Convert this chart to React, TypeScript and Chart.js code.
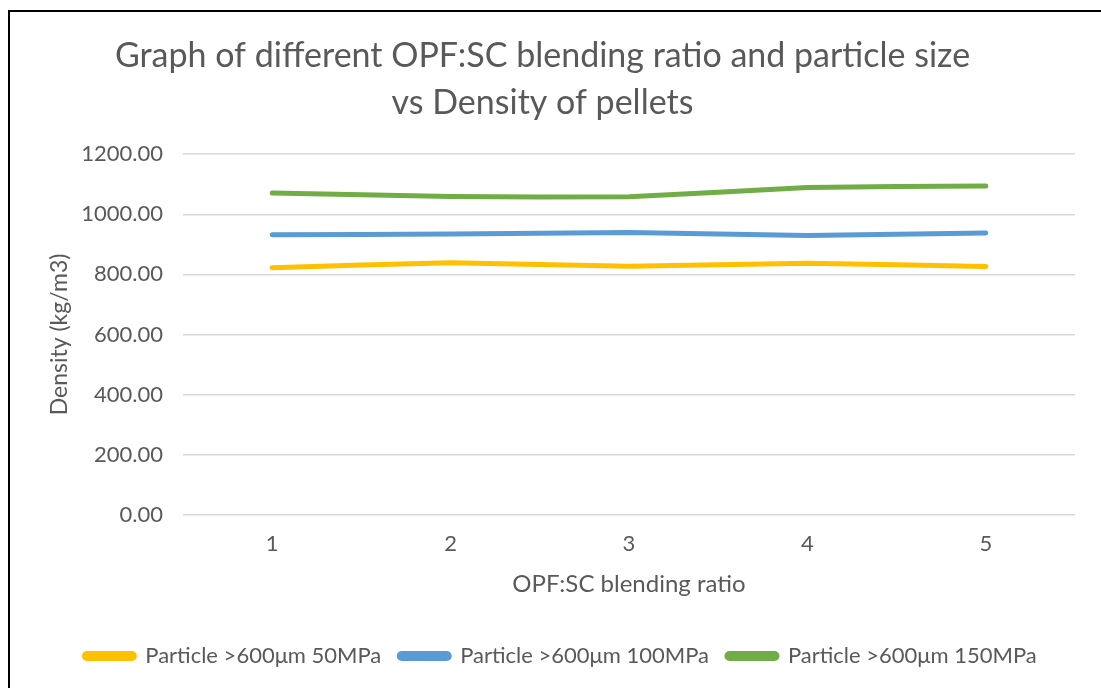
import React, { useEffect, useRef } from "react";
import { Chart, registerables } from "chart.js";

Chart.register(...registerables);

const categories = ["1", "2", "3", "4", "5"];
const seriesNames = [
  "Particle >600μm 50MPa",
  "Particle >600μm 100MPa",
  "Particle >600μm 150MPa",
];
const series50 = [822, 839, 827, 837, 826];
const series100 = [932, 934, 939, 929, 938];
const series150 = [1071, 1059, 1058, 1089, 1094];
const seriesColors = ["#FFC000", "#5B9BD5", "#70AD47"];
const titleLines = [
  "Graph of different OPF:SC blending ratio and particle size",
  "vs Density of pellets",
];

const FONT = "Lato, 'Open Sans', sans-serif";
const TEXT = "#595959";

const legendShift = {
  id: "legendShift",
  afterLayout(chart: any) {
    const lg = chart.legend;
    if (lg) {
      lg.left += 18;
      lg.right += 18;
    }
  },
};

export default function App() {
  const ref = useRef<HTMLCanvasElement | null>(null);
  useEffect(() => {
    if (!ref.current) return;
    const values = [series50, series100, series150];
    const chart = new Chart(ref.current, {
      type: "line",
      plugins: [legendShift],
      data: {
        labels: categories,
        datasets: values.map((v, i) => ({
          label: seriesNames[i],
          data: v,
          borderColor: seriesColors[i],
          backgroundColor: seriesColors[i],
          borderWidth: 5,
          pointRadius: 0,
          pointHoverRadius: 0,
          tension: 0.1,
          borderCapStyle: "round" as const,
          borderJoinStyle: "round" as const,
        })),
      },
      options: {
        animation: false,
        responsive: false,
        maintainAspectRatio: false,
        layout: { padding: { left: 0, right: 26, top: 10, bottom: 11 } },
        plugins: {
          title: {
            display: true,
            text: titleLines,
            color: TEXT,
            font: { family: FONT, size: 34, weight: "normal", lineHeight: 1.37 },
            padding: { top: 11, bottom: 28 },
          },
          legend: {
            position: "bottom",
            labels: {
              color: TEXT,
              font: { family: FONT, size: 22 },
              boxWidth: 50,
              boxHeight: 5,
              padding: 18,
              useBorderRadius: true,
              borderRadius: 2.5,
            },
          },
          tooltip: { enabled: false },
        },
        scales: {
          x: {
            offset: true,
            grid: { display: false, drawTicks: false },
            border: { display: false },
            ticks: { color: TEXT, font: { family: FONT, size: 22 }, padding: 16 },
            title: {
              display: true,
              text: "OPF:SC blending ratio",
              color: TEXT,
              font: { family: FONT, size: 24 },
              padding: { top: 10, bottom: 28 },
            },
            afterFit: (s: any) => {
              s.height -= 13;
            },
          },
          y: {
            min: 0,
            max: 1200,
            grid: { color: "#D9D9D9", lineWidth: 1.5, drawTicks: false },
            border: { display: false },
            ticks: {
              stepSize: 200,
              color: TEXT,
              font: { family: FONT, size: 22 },
              padding: 20,
              callback: (v: any) => Number(v).toFixed(2),
            },
            title: {
              display: true,
              text: "Density (kg/m3)",
              color: TEXT,
              font: { family: FONT, size: 23 },
              padding: { top: 36, bottom: 0 },
            },
            afterFit: (s: any) => {
              s.width = 173;
            },
          },
        },
      },
    });
    return () => chart.destroy();
  }, []);
  return (
    <div
      style={{
        position: "absolute",
        left: 8,
        top: 10,
        width: 1093,
        height: 678,
        borderLeft: "2px solid #000",
        borderTop: "2px solid #000",
        boxSizing: "border-box",
        background: "#fff",
        overflow: "hidden",
      }}
    >
      <canvas ref={ref} width={1091} height={676} style={{ display: "block" }} />
    </div>
  );
}
